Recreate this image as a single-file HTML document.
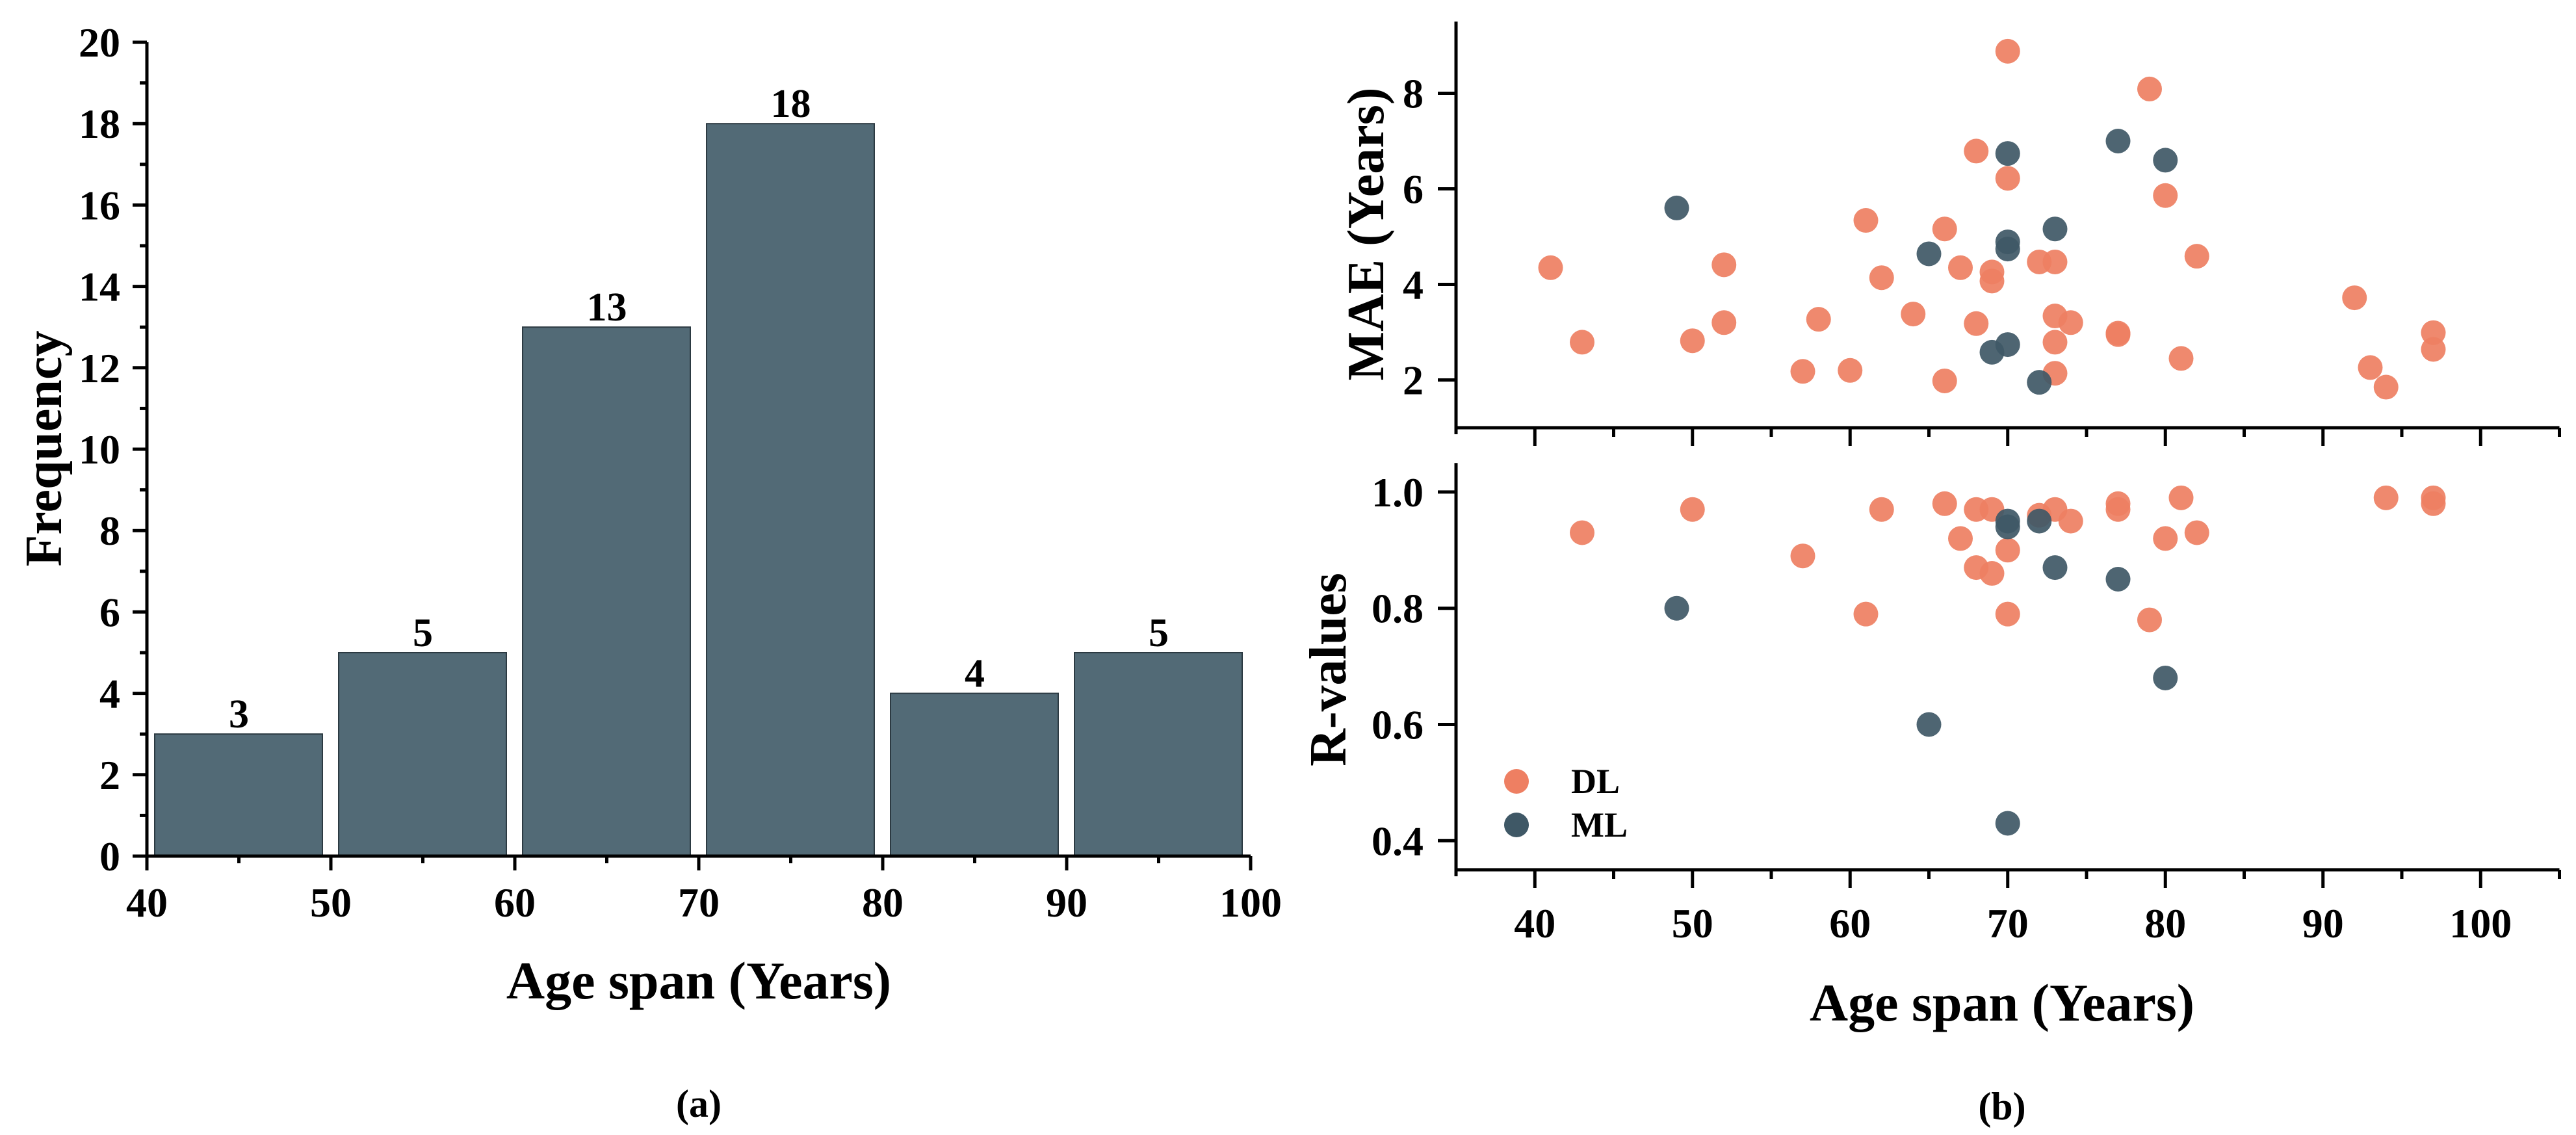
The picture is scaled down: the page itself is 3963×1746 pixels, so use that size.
<!DOCTYPE html>
<html><head><meta charset="utf-8"><style>
html,body{margin:0;padding:0;background:#fff}
svg{display:block}
text{font-family:"Liberation Serif",serif;font-weight:bold;fill:#000}
</style></head><body>
<svg id="chart" width="3963" height="1746" viewBox="0 0 3963 1746" xmlns="http://www.w3.org/2000/svg">
<g id="histo"></g>
<g id="scat"></g>
<text x="1075" y="1536" font-size="82" text-anchor="middle">Age span (Years)</text>
<text x="0" y="0" font-size="80" text-anchor="middle" transform="translate(94,690) rotate(-90)">Frequency</text>
<text x="1075" y="1718" font-size="60" text-anchor="middle">(a)</text>
<text x="3080" y="1570" font-size="82" text-anchor="middle">Age span (Years)</text>
<text x="0" y="0" font-size="80" text-anchor="middle" transform="translate(2128,360) rotate(-90)">MAE (Years)</text>
<text x="0" y="0" font-size="80" text-anchor="middle" transform="translate(2070,1030) rotate(-90)">R-values</text>
<text x="3080" y="1722" font-size="60" text-anchor="middle">(b)</text>
</svg>
<script>
// ---- Histogram data ----
const binStarts = [40, 50, 60, 70, 80, 90];
const binCounts = [3, 5, 13, 18, 4, 5];
const histXTicks = [40, 50, 60, 70, 80, 90, 100];
const histYTicks = [0, 2, 4, 6, 8, 10, 12, 14, 16, 18, 20];
// ---- Scatter data ----
const dlAge = [41,43,50,52,52,57,58,60,61,62,64,66,66,67,68,68,69,69,70,70,72,73,73,73,73,74,77,77,79,80,81,82,92,93,94,97,97];
const dlMae = [4.35,2.79,2.82,4.41,3.2,2.18,3.27,2.2,5.34,4.14,3.38,5.16,1.98,4.35,6.79,3.18,4.26,4.07,8.88,6.22,4.47,4.47,3.34,2.79,2.14,3.2,2.98,2.95,8.09,5.86,2.45,4.59,3.72,2.26,1.85,2.99,2.64];
const mlAge = [49,65,70,70,70,70,69,72,73,77,80];
const mlMae = [5.6,4.64,6.74,4.89,4.74,2.74,2.58,1.95,5.16,7.0,6.6];
const dlRAge = [43,50,57,61,62,66,67,68,68,69,69,70,70,72,73,74,77,77,79,80,81,82,94,97,97];
const dlR = [0.93,0.97,0.89,0.79,0.97,0.98,0.92,0.97,0.87,0.97,0.86,0.90,0.79,0.96,0.97,0.95,0.98,0.97,0.78,0.92,0.99,0.93,0.99,0.99,0.98];
const mlRAge = [49,65,70,70,70,72,73,77,80];
const mlR = [0.80,0.60,0.95,0.94,0.43,0.95,0.87,0.85,0.68];
const scatXTicks = [40, 50, 60, 70, 80, 90, 100];
const maeTicks = [2, 4, 6, 8];
const rTicks = [0.4, 0.6, 0.8, 1.0];

const NS = "http://www.w3.org/2000/svg";
function mk(parent, tag, attrs) {
  const e = document.createElementNS(NS, tag);
  for (const k in attrs) e.setAttribute(k, attrs[k]);
  parent.appendChild(e);
  return e;
}
// ---- Histogram axes ----
const hx = v => 226 + (v - 40) * 28.3;
const hy = v => 1317 - v * 62.6;
const H = document.getElementById('histo');
binStarts.forEach((s, i) => {
  const b = mk(H, 'rect', {x: hx(s) + 12, y: hy(binCounts[i]), width: 28.3 * 10 - 25, height: hy(0) - hy(binCounts[i]), fill: '#526a76', stroke: '#2c3a42', 'stroke-width': 2});
  
  
  const t = mk(H, 'text', {x: hx(s + 5), y: hy(binCounts[i]) - 10, 'font-size': 62, 'text-anchor': 'middle'});
  t.textContent = binCounts[i];
  
  
});
let ax = mk(H, 'path', {d: `M${hx(40)} ${hy(20)} V${hy(0)} H${hx(100)}`, fill: 'none', stroke: '#000', 'stroke-width': 5});


for (let v = 0; v <= 20; v++) {
  const len = v % 2 === 0 ? 22 : 11;
  mk(H, 'line', {x1: hx(40) - len, x2: hx(40), y1: hy(v), y2: hy(v), stroke: '#000', 'stroke-width': 5});
}
histYTicks.forEach(v => {
  const t = mk(H, 'text', {x: 185, y: hy(v) + 22, 'font-size': 64, 'text-anchor': 'end'});
  t.textContent = v;
  
  
});
for (let v = 40; v <= 100; v += 5) {
  const len = v % 10 === 0 ? 22 : 11;
  mk(H, 'line', {x1: hx(v), x2: hx(v), y1: hy(0), y2: hy(0) + len, stroke: '#000', 'stroke-width': 5});
}
histXTicks.forEach(v => {
  const t = mk(H, 'text', {x: hx(v), y: 1410, 'font-size': 64, 'text-anchor': 'middle'});
  t.textContent = v;
  
  
});
// ---- Scatter axes ----
const sx = v => 2240 + (v - 35) * 24.25;
const my = v => 658 - (v - 1) * 73.5;
const ry = v => 1338 - (v - 0.35) * 894;
const S = document.getElementById('scat');
const DL = '#ee7f62', ML = '#3f5866';
function axesFrame(yTop, yBot, ticks, yf, fmt, name) {
  const a = mk(S, 'path', {d: `M${sx(35)} ${yTop} V${yBot + 10} M${sx(35) - 2} ${yBot} H${sx(105)}`, fill: 'none', stroke: '#000', 'stroke-width': 5});
  
  
  for (let v = 40; v <= 105; v += 5) {
    const len = v % 10 === 0 ? 28 : 14;
    mk(S, 'line', {x1: sx(v), x2: sx(v), y1: yBot, y2: yBot + len, stroke: '#000', 'stroke-width': 5});
  }
  ticks.forEach(v => {
    mk(S, 'line', {x1: sx(35) - 28, x2: sx(35), y1: yf(v), y2: yf(v), stroke: '#000', 'stroke-width': 5});
    const t = mk(S, 'text', {x: 2190, y: yf(v) + 22, 'font-size': 64, 'text-anchor': 'end'});
    t.textContent = fmt(v);
    
    
  });
}
axesFrame(my(9.5), my(1), maeTicks, my, v => v, 'axes-mae');
axesFrame(ry(1.05), ry(0.35), rTicks, ry, v => v.toFixed(1), 'axes-r');
scatXTicks.forEach(v => {
  const t = mk(S, 'text', {x: sx(v), y: 1442, 'font-size': 64, 'text-anchor': 'middle'});
  t.textContent = v;
  
  
});
function pts(xs, ys, yf, col, name) {
  xs.forEach((x, i) => {
    const c = mk(S, 'circle', {cx: sx(x), cy: yf(ys[i]), r: 19, fill: col, 'fill-opacity': 0.92});
    
    
  });
}
pts(dlAge, dlMae, my, DL, 'dl-mae-point');
pts(mlAge, mlMae, my, ML, 'ml-mae-point');
pts(dlRAge, dlR, ry, DL, 'dl-r-point');
pts(mlRAge, mlR, ry, ML, 'ml-r-point');
// legend
[['DL', DL, 1202], ['ML', ML, 1269]].forEach(([lab, col, y]) => {
  const c = mk(S, 'circle', {cx: 2333, cy: y, r: 19, fill: col});
  
  
  const t = mk(S, 'text', {x: 2417, y: y + 18, 'font-size': 54});
  t.textContent = lab;
  
  
});
</script>
</body></html>
